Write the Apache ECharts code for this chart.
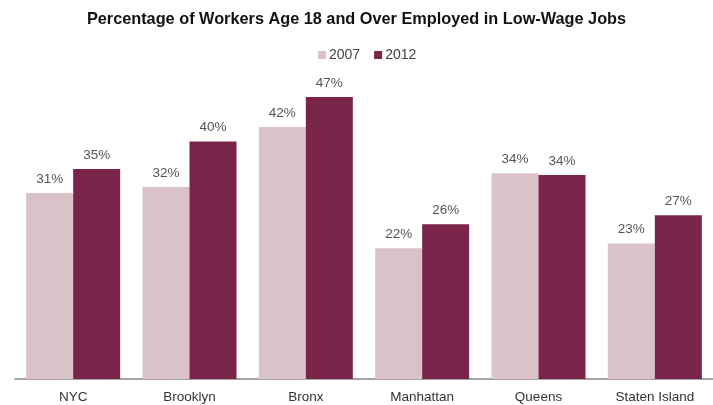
<!DOCTYPE html>
<html><head><meta charset="utf-8">
<script src="https://cdn.jsdelivr.net/npm/echarts@6/dist/echarts.min.js"></script>
<style>html,body{margin:0;padding:0;background:#fff}#c{width:713px;height:405px}</style>
</head><body><div id="c"></div>
<script>
const categories = ['NYC','Brooklyn','Bronx','Manhattan','Queens','Staten Island'];
const values2007 = [31, 32, 42, 21.8, 34.3, 22.6];
const values2012 = [35, 39.6, 47, 25.8, 34, 27.3];
const seriesNames = ['2007','2012'];

const chart = echarts.init(document.getElementById('c'));
const lbl = {show:true, position:'top', distance:7, color:'#555', fontSize:13.5,
  fontFamily:'Liberation Sans', formatter:p=>Math.round(p.value)+'%'};
chart.setOption({
  animation:false,
  title:{text:'Percentage of Workers Age 18 and Over Employed in Low-Wage Jobs',
    left:'center', top:7, textStyle:{fontFamily:'Liberation Sans', fontWeight:'bold', fontSize:16.3, color:'#111'}},
  legend:{data:seriesNames, top:43, left:313, itemWidth:8, itemHeight:8, itemGap:14,
    textStyle:{fontFamily:'Liberation Sans', fontSize:14, color:'#444', padding:[0,0,0,-2]}, icon:'rect'},
  grid:{left:15, right:0, top:79, bottom:26},
  xAxis:{type:'category', data:categories,
    axisLine:{lineStyle:{color:'#888', width:1.5}}, axisTick:{show:false},
    axisLabel:{color:'#333', fontSize:13.5, fontFamily:'Liberation Sans', margin:11}},
  yAxis:{type:'value', min:0, max:50, show:false, splitLine:{show:false}},
  series:[
    {name:seriesNames[0], type:'bar', data:values2007, barWidth:47, barGap:'0%',
     itemStyle:{color:'#d9c2c8'}, label:lbl},
    {name:seriesNames[1], type:'bar', data:values2012, barWidth:47, barGap:'0%',
     itemStyle:{color:'#7a2449'}, label:lbl}
  ]
});
</script></body></html>
